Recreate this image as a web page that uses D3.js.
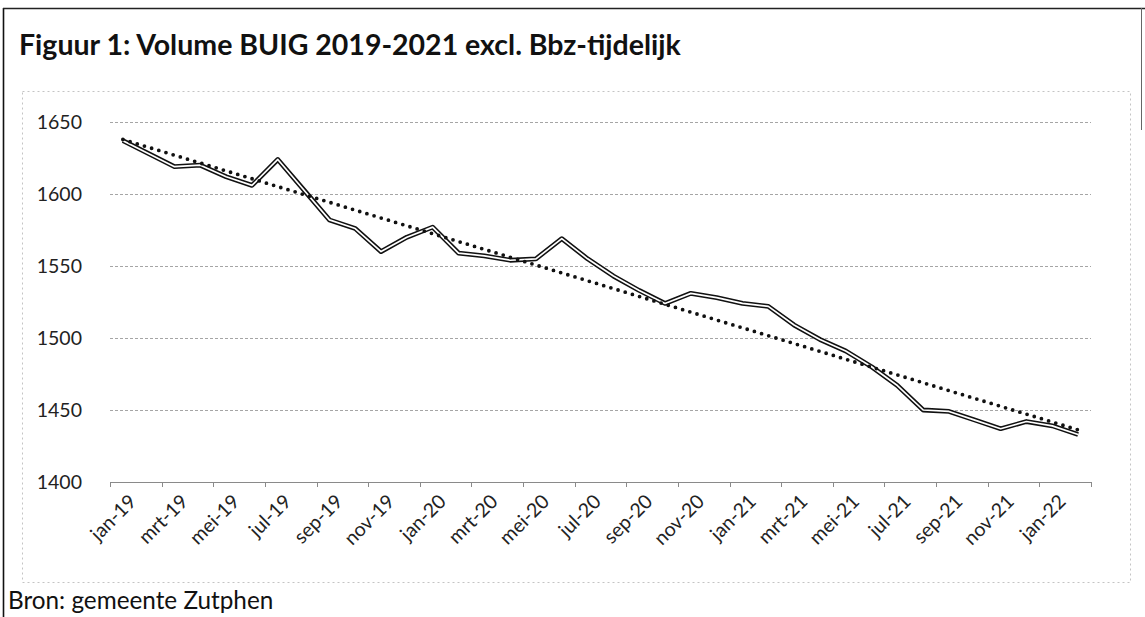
<!DOCTYPE html>
<html>
<head>
<meta charset="utf-8">
<script src="https://cdn.jsdelivr.net/npm/d3@7"></script>
<style>
  body { margin: 0; background: #fff; }
  svg { display: block; font-family: Lato, "Open Sans", sans-serif; }
</style>
</head>
<body>
<svg id="chart" width="1145" height="617"></svg>
<script>
// maanden jan-19 t/m feb-22
let months = ["jan-19","feb-19","mrt-19","apr-19","mei-19","jun-19","jul-19","aug-19","sep-19","okt-19","nov-19","dec-19",
  "jan-20","feb-20","mrt-20","apr-20","mei-20","jun-20","jul-20","aug-20","sep-20","okt-20","nov-20","dec-20",
  "jan-21","feb-21","mrt-21","apr-21","mei-21","jun-21","jul-21","aug-21","sep-21","okt-21","nov-21","dec-21",
  "jan-22","feb-22"];

let volume = [1637, 1628, 1619, 1620, 1612, 1606, 1624, 1603, 1582, 1576, 1560, 1570,
  1577, 1559, 1557, 1554, 1555, 1569, 1555, 1543, 1533, 1524, 1531, 1528,
  1524, 1522, 1509, 1499, 1491, 1480, 1467, 1450, 1449, 1443, 1437, 1442,
  1439, 1433];

let yTicks = [1400, 1450, 1500, 1550, 1600, 1650];

let title = "Figuur 1: Volume BUIG 2019-2021 excl. Bbz-tijdelijk";
let source = "Bron: gemeente Zutphen";

let svg = d3.select('#chart');

// outer frame (scan)
svg.append('line').attr('x1', 3.5).attr('x2', 3.5).attr('y1', 8).attr('y2', 617)
  .attr('stroke', '#111').attr('stroke-width', 1.6);
svg.append('line').attr('x1', 3).attr('x2', 1145).attr('y1', 8.5).attr('y2', 8.5)
  .attr('stroke', '#222').attr('stroke-width', 1.4);
svg.append('line').attr('x1', 1141.5).attr('x2', 1141.5).attr('y1', 8).attr('y2', 130)
  .attr('stroke', '#666').attr('stroke-width', 1);

// chart area border (faint, dotted)
svg.append('rect')
  .attr('x', 22.5).attr('y', 91.5).attr('width', 1108).attr('height', 491)
  .attr('fill', 'none').attr('stroke', '#c4c4c4').attr('stroke-width', 1)
  .attr('stroke-dasharray', '2 3');

svg.append('text')
  .attr('x', 19).attr('y', 55)
  .style('font-size', '28.5px').style('font-weight', 700).attr('fill', '#111')
  .text(title);

svg.append('text')
  .attr('x', 8).attr('y', 609)
  .style('font-size', '24.3px').attr('fill', '#111')
  .text(source);

let x = d3.scaleBand().domain(months).range([110, 1091]).padding(0);
let y = d3.scaleLinear().domain([1400, 1650]).range([482, 122]);
let cx = d => x(d) + x.bandwidth() / 2;

// gridlines + y labels
let yAxis = svg.append('g')
  .attr('transform', 'translate(110,0)')
  .call(d3.axisLeft(y).tickValues(yTicks).tickSize(-(1091 - 110)).tickPadding(28).tickFormat(d3.format('d')));
yAxis.select('.domain').remove();
yAxis.selectAll('.tick line')
  .attr('stroke', '#a5a5a5').attr('stroke-width', 1).attr('stroke-dasharray', '3 2');
yAxis.selectAll('.tick text')
  .style('font-size', '19.5px').style('font-family', 'Lato, sans-serif').attr('fill', '#222');

// x axis line with ticks every 2 months
let gx = svg.append('g').attr('class', 'x-axis');
gx.append('line').attr('x1', 110).attr('x2', 1091).attr('y1', y(1400) + 0.5).attr('y2', y(1400) + 0.5)
  .attr('stroke', '#8a8a8a').attr('stroke-width', 1);
let tickPos = months.filter((m, i) => i % 2 === 0).map(m => x(m)).concat([x.range()[1]]);
gx.selectAll('.xtick').data(tickPos).enter().append('line')
  .attr('class', 'xtick')
  .attr('x1', d => Math.round(d) + 0.5).attr('x2', d => Math.round(d) + 0.5)
  .attr('y1', y(1400)).attr('y2', y(1400) + 5)
  .attr('stroke', '#8a8a8a');

gx.selectAll('.xlabel').data(months.filter((m, i) => i % 2 === 0)).enter().append('text')
  .attr('class', 'xlabel')
  .attr('transform', d => `translate(${cx(d) + 5},${y(1400) + 11}) rotate(-45)`)
  .attr('text-anchor', 'end')
  .attr('dy', '0.7em')
  .style('font-size', '19.5px').attr('fill', '#222')
  .text(d => d);

// data line: double line (black outline, white core)
let line = d3.line().x((d, i) => cx(months[i])).y(d => y(d));
svg.append('path').datum(volume).attr('d', line)
  .attr('fill', 'none').attr('stroke', '#111').attr('stroke-width', 4.8).attr('stroke-linejoin', 'round');
svg.append('path').datum(volume).attr('d', line)
  .attr('fill', 'none').attr('stroke', '#fff').attr('stroke-width', 1.7).attr('stroke-linejoin', 'round');

// linear trendline (least squares, like the Excel trendline)
let n = volume.length;
let idx = d3.range(n);
let mx = d3.mean(idx), my = d3.mean(volume);
let slope = d3.sum(idx, i => (i - mx) * (volume[i] - my)) / d3.sum(idx, i => (i - mx) * (i - mx));
let icpt = my - slope * mx;
svg.append('line')
  .attr('x1', cx(months[0])).attr('y1', y(icpt))
  .attr('x2', cx(months[n - 1])).attr('y2', y(icpt + slope * (n - 1)))
  .attr('stroke', '#111').attr('stroke-width', 3.8)
  .attr('stroke-linecap', 'round').attr('stroke-dasharray', '0 7.5');
</script>
</body>
</html>
